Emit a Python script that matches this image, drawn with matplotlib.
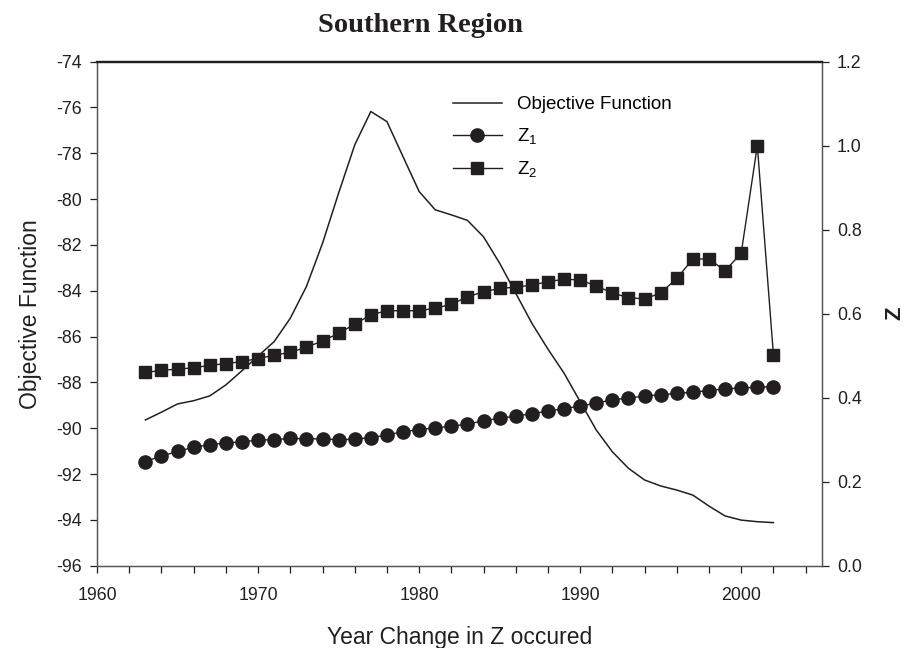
import numpy as np
import matplotlib
matplotlib.use("Agg")
import matplotlib.pyplot as plt
from matplotlib.ticker import MultipleLocator, FormatStrFormatter

plt.rcParams['font.family'] = ['Liberation Sans', 'DejaVu Sans']
plt.rcParams['mathtext.fontset'] = 'custom'
plt.rcParams['mathtext.rm'] = 'Liberation Sans'
plt.rcParams['mathtext.default'] = 'regular'
plt.rcParams['axes.unicode_minus'] = False

# 数据
years = list(range(1963, 2003))

objective = [-89.64, -89.30, -88.94, -88.80, -88.59, -88.11, -87.49, -86.85,
             -86.22, -85.20, -83.82, -81.93, -79.74, -77.64, -76.18, -76.62,
             -78.15, -79.67, -80.47, -80.69, -80.93, -81.65, -82.80, -84.11,
             -85.42, -86.55, -87.60, -88.84, -90.08, -91.03, -91.75, -92.26,
             -92.52, -92.70, -92.92, -93.40, -93.83, -94.01, -94.08, -94.12]

z1 = [0.248, 0.261, 0.272, 0.282, 0.288, 0.292, 0.295, 0.299, 0.300, 0.303,
      0.302, 0.302, 0.300, 0.301, 0.305, 0.311, 0.319, 0.324, 0.328, 0.332,
      0.337, 0.345, 0.351, 0.356, 0.362, 0.368, 0.374, 0.380, 0.387, 0.395,
      0.399, 0.404, 0.407, 0.410, 0.413, 0.417, 0.421, 0.423, 0.425, 0.426]

z2 = [0.460, 0.465, 0.468, 0.471, 0.477, 0.481, 0.486, 0.493, 0.501, 0.508,
      0.520, 0.535, 0.553, 0.575, 0.597, 0.607, 0.607, 0.607, 0.613, 0.622,
      0.640, 0.652, 0.660, 0.663, 0.668, 0.676, 0.682, 0.680, 0.666, 0.649,
      0.638, 0.635, 0.649, 0.684, 0.730, 0.730, 0.702, 0.744, 1.000, 0.502]

ink = '#231f20'

fig = plt.figure(figsize=(9.07, 6.48), dpi=100)
ax = fig.add_axes([0.107, 0.127, 0.799, 0.778])
ax2 = ax.twinx()

# 目标函数曲线（左轴）
l0, = ax.plot(years, objective, color=ink, lw=1.1, label='Objective Function')

# Z1, Z2（右轴）
l1, = ax2.plot(years, z1, color=ink, lw=1.0, marker='o', markersize=9.5,
               label='Z$_1$')
l2, = ax2.plot(years, z2, color=ink, lw=1.0, marker='s', markersize=8.8,
               label='Z$_2$')

ax.set_xlim(1960, 2005)
ax.set_ylim(-96, -74)
ax2.set_ylim(0, 1.2)

ax.xaxis.set_major_locator(MultipleLocator(10))
ax.xaxis.set_minor_locator(MultipleLocator(2))
ax.yaxis.set_major_locator(MultipleLocator(2))
ax2.yaxis.set_major_locator(MultipleLocator(0.2))
ax2.yaxis.set_major_formatter(FormatStrFormatter('%.1f'))

for a in (ax, ax2):
    a.tick_params(axis='both', which='both', direction='out', length=5,
                  width=0.9, colors=ink, labelsize=12.8, pad=6)
    for s in a.spines.values():
        s.set_color('#555555')
        s.set_linewidth(0.9)
    a.spines['top'].set_color(ink)
    a.spines['top'].set_linewidth(1.6)
ax.tick_params(axis='x', pad=10)

# 标题（原图略偏左）
fig.text(0.463, 1 - 32 / 648, 'Southern Region', fontfamily='Liberation Serif',
         fontweight='bold', fontsize=20.5, color=ink, ha='center', va='baseline')
ax.set_xlabel('Year Change in Z occured', fontsize=16.5, labelpad=16, color=ink)
ax.set_ylabel('Objective Function', fontsize=16.5, labelpad=10, color=ink)
ax2.set_ylabel('Z', fontsize=16, fontweight='bold', labelpad=16, color=ink,
               rotation=90)

ax2.legend(handles=[l0, l1, l2], loc='upper left', bbox_to_anchor=(0.468, 0.965),
           frameon=False, fontsize=13.5, handlelength=2.6, labelspacing=0.7,
           handletextpad=0.8)

fig.savefig('out.png', dpi=100)
